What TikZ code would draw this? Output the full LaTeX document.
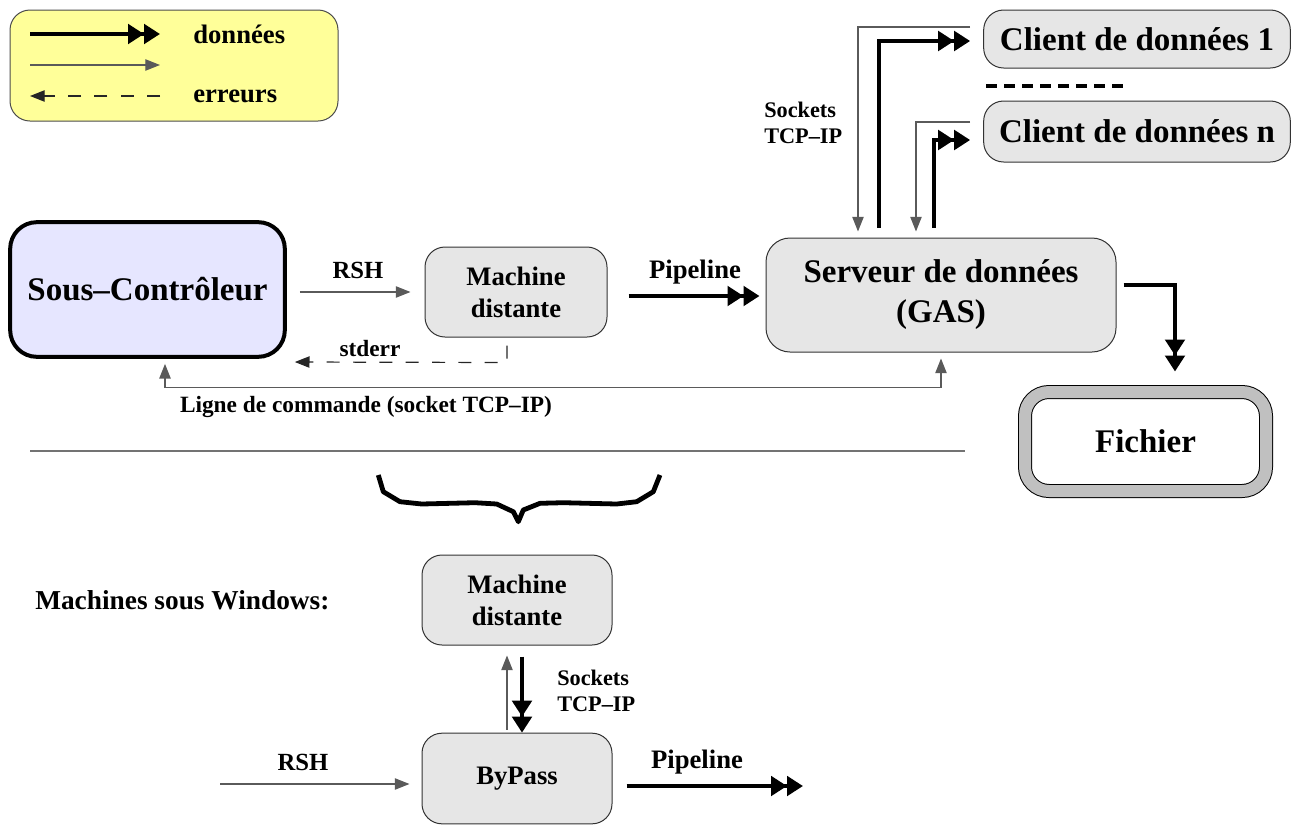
\documentclass[tikz,border=0pt]{standalone}
\usepackage{fontspec}
\setmainfont{Liberation Serif}
\usetikzlibrary{arrows.meta,calc}
\definecolor{legendyellow}{RGB}{255,255,153}
\definecolor{boxgrey}{RGB}{230,230,230}
\definecolor{lavender}{RGB}{230,230,255}
\definecolor{ringgrey}{RGB}{192,192,192}
\definecolor{thingrey}{RGB}{90,90,90}
\tikzset{
  box/.style={draw=black!80, line width=0.75pt, fill=boxgrey, rounded corners=15pt,
    align=center, inner sep=0pt, font=\bfseries\fontsize{20}{24}\selectfont},
  bigfont/.style={font=\bfseries\fontsize{24.75}{30}\selectfont},
  lbl/.style={font=\bfseries\fontsize{18.5}{20}\selectfont, inner sep=0pt, align=left},
  lbllarge/.style={lbl, font=\bfseries\fontsize{20}{22}\selectfont},
  sockfont/.style={lbl, font=\bfseries\fontsize{16.7}{19}\selectfont},
  cmdlbl/.style={font=\bfseries\fontsize{17.5}{20}\selectfont, inner sep=0pt},
  datatip/.tip={Triangle[length=12pt,width=14.5pt]Triangle[length=12pt,width=14.5pt]},
  thintip/.tip={Triangle[length=11pt,width=8.5pt]},
  dataarrow/.style={line width=3.6pt, -datatip},
  ctrlarrow/.style={line width=0.9pt, draw=thingrey, -thintip},
  errarrow/.style={line width=0.9pt, draw=black!85, dash pattern=on 9.75pt off 10pt, -thintip},
}
\begin{document}
\begin{tikzpicture}[x=0.75pt,y=-0.75pt]
\useasboundingbox (0,0) rectangle (1293,826);

% legend
\node[draw=black!70, line width=0.75pt, fill=legendyellow, rounded corners=15pt,
  minimum width=246pt, minimum height=83.25pt] (legend) at (174,65.5) {};
\node[lbllarge, anchor=west] (ldata) at (193,34) {données};
\node[lbllarge, anchor=west] (lerr) at (193,96) {erreurs};
\coordinate (l1a) at (30,34);  \coordinate (l1b) at (160,34);
\coordinate (l2a) at (30,65);  \coordinate (l2b) at (160,65);
\coordinate (l3a) at (160,96); \coordinate (l3b) at (30,96);
\draw[dataarrow] (l1a) -- (l1b);
\draw[ctrlarrow] (l2a) -- (l2b);
\draw[errarrow] (l3a) -- (l3b);

% main boxes
\node[draw=black, line width=3pt, fill=lavender, rounded corners=20pt,
  minimum width=206pt, minimum height=101pt, bigfont] (sous) at (147.5,289.5) {Sous–Contrôleur};
\node[box, minimum width=136.5pt, minimum height=67.5pt] (mach) at (516,292) {Machine\\distante};
\node[box, bigfont, minimum width=262.5pt, minimum height=85.5pt, rounded corners=18pt] (serv) at (941,295) {Serveur de données\\(GAS)};
\node[box, bigfont, minimum width=230pt, minimum height=43.5pt] (c1) at (1137,39) {Client de données 1};
\node[box, bigfont, minimum width=230pt, minimum height=45.75pt] (cn) at (1137,131.5) {Client de données n};
\node[draw=black, line width=0.75pt, double=ringgrey, double distance=9pt, fill=white,
  rounded corners=18pt, minimum width=180.75pt, minimum height=74.25pt, bigfont] (fich) at (1145.5,441.5) {Fichier};

% separator between clients
\coordinate (sepa) at (986,86); \coordinate (sepb) at (1124,86);
\draw[line width=3pt, dash pattern=on 8.5pt off 5pt] (sepa) -- (sepb);

% RSH
\draw[ctrlarrow] ($(sous.east)+(13,2.5)$) -- ($(mach.west)+(-14,0)$);
\node[lbl] (rsh) at (358,270) {RSH};
% Pipeline
\draw[dataarrow] ($(mach.east)+(21,4)$) -- ($(serv.west)+(-6,1)$);
\node[lbllarge] (pipe) at (695,272) {Pipeline};
% stderr
\draw[errarrow] ($(mach.south)+(-9,8)$) -- ++(0,17) -- ($(sous.east)+(8,72.5)$);
\node[lbl, font=\bfseries\fontsize{17.5}{20}\selectfont] (stderr) at (370,349) {stderr};
% command line
\draw[line width=0.9pt, draw=thingrey, thintip-thintip] ($(sous.south)+(17.5,5)$) |- ($(serv.south)+(0,35)$) -- ($(serv.south)+(0,6)$);
\node[cmdlbl] (cmd) at (366,407) {Ligne de commande (socket TCP–IP)};

% sockets to clients
\draw[ctrlarrow] ($(c1.west)+(-13,-12)$) -| ($(serv.north)+(-83,-6)$);
\draw[dataarrow] ($(serv.north)+(-62,-10)$) |- ($(c1.west)+(-13,2)$);
\draw[ctrlarrow] ($(cn.west)+(-13,-9.5)$) -| ($(serv.north)+(-25,-6)$);
\draw[dataarrow] ($(serv.north)+(-7,-10)$) |- ($(cn.west)+(-13,8.5)$);
\node[sockfont, anchor=west] (sock1) at (764,123) {Sockets\\[0pt]TCP–IP};

% server to file
\draw[dataarrow] ($(serv.east)+(7,-10)$) -| ($(fich.north)+(29.5,-20)$);

% horizontal separator
\coordinate (hsa) at (30,451); \coordinate (hsb) at (965,451);
\draw[line width=1.1pt, draw=black!55] (hsa) -- (hsb);

% brace
\draw[line width=3.6pt, line join=round] (378.3,475) -- (383.3,491.7) -- (400,501.7) -- (421.7,504)
  -- (475,502.7) -- (496.7,504) -- (513.3,511.7) -- (518.3,521.7) -- (523.3,510) -- (540,503.3)
  -- (563.3,502.7) -- (616.7,504) -- (636.7,501.7) -- (653.3,491.7) -- (660,475);

% windows part
\node[lbl, font=\bfseries\fontsize{20.5}{22}\selectfont, anchor=west] (win) at (35,600) {Machines sous Windows:};
\node[box, minimum width=142.5pt, minimum height=67.5pt] (mach2) at (517,600) {Machine\\distante};
\node[box, minimum width=142.5pt, minimum height=68pt] (bypass) at (517,778.5) {ByPass};
\draw[ctrlarrow] ($(bypass.north)+(-10,-3)$) -- ($(mach2.south)+(-10,10)$);
\draw[dataarrow] ($(mach2.south)+(5,11)$) -- ($(bypass.north)+(5,0)$);
\node[sockfont, anchor=west] (sock2) at (557,691) {Sockets\\[0pt]TCP–IP};
\coordinate (rsh2start) at (220,784);
\draw[ctrlarrow] (rsh2start) -- ($(bypass.west)+(-12,5.5)$);
\node[lbl] (rsh2) at (303,762) {RSH};
\coordinate (pipe2end) at (803,786);
\draw[dataarrow] ($(bypass.east)+(14,7.5)$) -- (pipe2end);
\node[lbllarge] (pipe2) at (697,762) {Pipeline};
\end{tikzpicture}
\end{document}
